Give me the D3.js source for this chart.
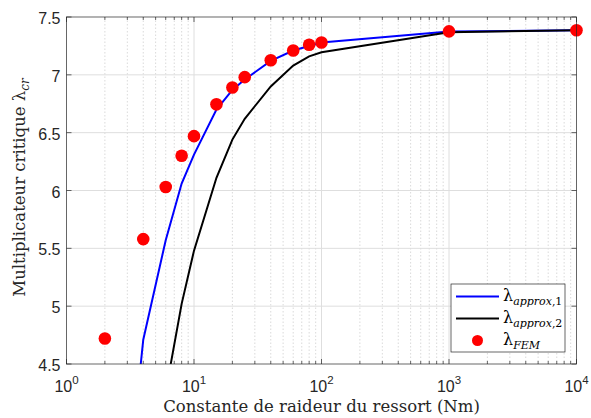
<!DOCTYPE html>
<html>
<head>
<meta charset="utf-8">
<script src="https://cdn.jsdelivr.net/npm/d3@7"></script>
<style>
    body { margin: 0; background: #fff; }
    svg { display: block; }
    .tick-label { font-family: 'Liberation Sans', Arial, sans-serif; font-size: 16px; fill: #262626; }
    .axis-title { font-family: 'DejaVu Serif', 'Liberation Serif', serif; font-size: 16.5px; fill: #262626; }
    .legend text { font-family: 'DejaVu Serif', 'Liberation Serif', serif; font-size: 16px; fill: #000; }
</style>
</head>
<body>
<script>
'use strict';

// spring stiffness (Nm)
const femK = [2, 4, 6, 8, 10, 15, 20, 25, 40, 60, 80, 100, 1000, 10000];
const femLambda = [4.72, 5.58, 6.03, 6.30, 6.47, 6.745, 6.89, 6.98, 7.126, 7.21, 7.26, 7.28, 7.376, 7.385];

const approx1K = [2, 4, 6, 8, 10, 15, 20, 25, 40, 60, 80, 100, 1000, 10000];
const approx1Lambda = [1.5, 4.71, 5.57, 6.06, 6.31, 6.70, 6.87, 6.96, 7.12, 7.21, 7.25, 7.28, 7.375, 7.385];

const approx2K = [4, 6, 8, 10, 15, 20, 25, 40, 60, 80, 100, 1000, 10000];
const approx2Lambda = [2.7, 4.26, 5.02, 5.48, 6.11, 6.44, 6.62, 6.90, 7.08, 7.16, 7.195, 7.368, 7.385];

const yTicks = [4.5, 5, 5.5, 6, 6.5, 7, 7.5];
const xTickExponents = [0, 1, 2, 3, 4];

(function () {

    function getPlotArea() {
        const plot = {
            svg: { width: 591, height: 418 },
            padding: { top: 17, right: 14.5, bottom: 54, left: 66.5 }
        };
        plot.range = {
            x: plot.svg.width - plot.padding.left - plot.padding.right,
            y: plot.svg.height - plot.padding.top - plot.padding.bottom
        };
        return plot;
    }

    function makeScales(plot) {
        return {
            x: d3.scaleLog().domain([1, 10000]).range([0, plot.range.x]),
            y: d3.scaleLinear().domain([4.5, 7.5]).range([plot.range.y, 0])
        };
    }

    function minorValues() {
        const vals = [];
        for (let e = 0; e < 4; ++e) {
            for (let m = 2; m <= 9; ++m) {
                vals.push(m * Math.pow(10, e));
            }
        }
        return vals;
    }

    /**
     * Grid: dotted minor verticals, solid major lines in both directions.
     */
    function appendGrid(g, plot, scales) {
        const grid = g.append('g').attr('class', 'grid');
        grid.selectAll('line.minor')
            .data(minorValues())
            .enter().append('line')
            .attr('x1', d => scales.x(d)).attr('x2', d => scales.x(d))
            .attr('y1', 0).attr('y2', plot.range.y)
            .attr('stroke', '#d0d0d0').attr('stroke-width', 0.8)
            .attr('stroke-dasharray', '1.5,2');
        grid.selectAll('line.vmajor')
            .data(xTickExponents.slice(1, -1))
            .enter().append('line')
            .attr('x1', d => scales.x(Math.pow(10, d))).attr('x2', d => scales.x(Math.pow(10, d)))
            .attr('y1', 0).attr('y2', plot.range.y)
            .attr('stroke', '#dedede').attr('stroke-width', 1);
        grid.selectAll('line.hmajor')
            .data(yTicks.slice(1, -1))
            .enter().append('line')
            .attr('x1', 0).attr('x2', plot.range.x)
            .attr('y1', d => scales.y(d)).attr('y2', d => scales.y(d))
            .attr('stroke', '#dedede').attr('stroke-width', 1);
    }

    /**
     * Axis box with inward ticks on all four sides, and tick labels left and bottom.
     */
    function appendAxes(g, plot, scales) {
        const axisColor = '#262626';
        const axes = g.append('g').attr('class', 'axes');
        const w = plot.range.x, h = plot.range.y;
        const majorLen = 5, minorLen = 3;

        [0, h].forEach(y0 => {
            const dir = y0 === 0 ? 1 : -1;
            axes.selectAll(null)
                .data(minorValues())
                .enter().append('line')
                .attr('x1', d => scales.x(d)).attr('x2', d => scales.x(d))
                .attr('y1', y0).attr('y2', y0 + dir * minorLen)
                .attr('stroke', axisColor).attr('stroke-width', 0.7);
            axes.selectAll(null)
                .data(xTickExponents)
                .enter().append('line')
                .attr('x1', d => scales.x(Math.pow(10, d))).attr('x2', d => scales.x(Math.pow(10, d)))
                .attr('y1', y0).attr('y2', y0 + dir * majorLen)
                .attr('stroke', axisColor).attr('stroke-width', 0.7);
        });
        [0, w].forEach(x0 => {
            const dir = x0 === 0 ? 1 : -1;
            axes.selectAll(null)
                .data(yTicks)
                .enter().append('line')
                .attr('x1', x0).attr('x2', x0 + dir * majorLen)
                .attr('y1', d => scales.y(d)).attr('y2', d => scales.y(d))
                .attr('stroke', axisColor).attr('stroke-width', 0.7);
        });

        axes.append('rect')
            .attr('width', w).attr('height', h)
            .attr('fill', 'none').attr('stroke', axisColor).attr('stroke-width', 0.7);

        axes.selectAll('text.ylab')
            .data(yTicks)
            .enter().append('text')
            .attr('class', 'tick-label')
            .attr('x', -6)
            .attr('y', d => scales.y(d) + 7)
            .attr('text-anchor', 'end')
            .text(d => d);

        const xl = axes.selectAll('text.xlab')
            .data(xTickExponents)
            .enter().append('text')
            .attr('class', 'tick-label')
            .attr('x', d => scales.x(Math.pow(10, d)))
            .attr('y', h + 28)
            .attr('text-anchor', 'middle');
        xl.append('tspan').text('10');
        xl.append('tspan').attr('dy', -8).attr('font-size', '11.5px').text(d => d);
    }

    function appendLines(g, plot, scales) {
        g.append('clipPath').attr('id', 'plotClip')
            .append('rect').attr('width', plot.range.x).attr('height', plot.range.y);
        const line = d3.line().x(d => scales.x(d[0])).y(d => scales.y(d[1]));
        const series = [
            { k: approx1K, v: approx1Lambda, color: '#0000ff' },
            { k: approx2K, v: approx2Lambda, color: '#000000' }
        ];
        series.forEach(s => {
            g.append('path')
                .datum(d3.zip(s.k, s.v))
                .attr('clip-path', 'url(#plotClip)')
                .attr('fill', 'none')
                .attr('stroke', s.color)
                .attr('stroke-width', 2)
                .attr('d', line);
        });
    }

    function appendFemPoints(g, scales) {
        g.selectAll('circle.fem')
            .data(d3.zip(femK, femLambda))
            .enter().append('circle')
            .attr('cx', d => scales.x(d[0]))
            .attr('cy', d => scales.y(d[1]))
            .attr('r', 6.3)
            .attr('fill', '#ff0000');
    }

    function appendAxisTitles(svg, plot) {
        svg.append('text')
            .attr('class', 'axis-title')
            .attr('x', plot.padding.left + plot.range.x / 2)
            .attr('y', 412)
            .attr('text-anchor', 'middle')
            .text('Constante de raideur du ressort (Nm)');
        const yt = svg.append('text')
            .attr('class', 'axis-title')
            .attr('transform', 'translate(25,' + (plot.padding.top + plot.range.y / 2 - 3) + ') rotate(-90)')
            .attr('text-anchor', 'middle');
        yt.append('tspan').text('Multiplicateur critique λ');
        yt.append('tspan').attr('dy', 4).attr('font-size', '12px').attr('font-style', 'italic').text('cr');
    }

    /**
     * Legend box in the lower right corner: two line samples and one dot.
     */
    function appendLegend(svg) {
        const box = { x: 451, y: 284, width: 114, height: 68 };
        const rows = [
            { type: 'line', color: '#0000ff', sub: 'approx', idx: ',1' },
            { type: 'line', color: '#000000', sub: 'approx', idx: ',2' },
            { type: 'dot', color: '#ff0000', sub: 'FEM', idx: '' }
        ];
        const lg = svg.append('g').attr('class', 'legend');
        lg.append('rect')
            .attr('x', box.x).attr('y', box.y)
            .attr('width', box.width).attr('height', box.height)
            .attr('fill', '#fff').attr('stroke', '#262626').attr('stroke-width', 0.7);
        rows.forEach((r, i) => {
            const cy = box.y + 12.5 + i * 22;
            if (r.type === 'line') {
                lg.append('line')
                    .attr('x1', 456).attr('x2', 499)
                    .attr('y1', cy).attr('y2', cy)
                    .attr('stroke', r.color).attr('stroke-width', 2);
            } else {
                lg.append('circle')
                    .attr('cx', 477.5).attr('cy', cy)
                    .attr('r', 5.5).attr('fill', r.color);
            }
            const t = lg.append('text').attr('x', 503).attr('y', cy + 4);
            t.append('tspan').text('λ');
            t.append('tspan').attr('dy', 4).attr('font-size', '11px').attr('font-style', 'italic').text(r.sub);
            if (r.idx) {
                t.append('tspan').attr('font-size', '11px').text(r.idx);
            }
        });
    }

    function draw() {
        const plot = getPlotArea();
        const svg = d3.select('body').append('svg')
            .attr('width', plot.svg.width)
            .attr('height', plot.svg.height);
        const g = svg.append('g')
            .attr('transform', 'translate(' + plot.padding.left + ',' + plot.padding.top + ')');
        const scales = makeScales(plot);
        appendGrid(g, plot, scales);
        appendLines(g, plot, scales);
        appendFemPoints(g, scales);
        appendAxes(g, plot, scales);
        appendAxisTitles(svg, plot);
        appendLegend(svg);
    }

    draw();

})();
</script>
</body>
</html>
